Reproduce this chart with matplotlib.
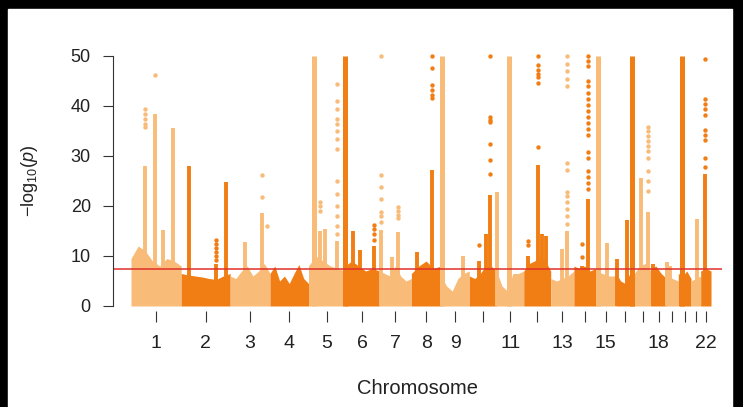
import numpy as np
import matplotlib.pyplot as plt
from matplotlib.patches import Rectangle

plt.rcParams['font.family'] = ['Liberation Sans', 'DejaVu Sans']
plt.rcParams['mathtext.fontset'] = 'custom'
plt.rcParams['mathtext.rm'] = 'Liberation Sans'
plt.rcParams['mathtext.it'] = 'Liberation Sans:italic'

# chromosome lengths (Mb)
chrom_len = [249.3, 243.2, 198.0, 191.2, 180.9, 171.1, 159.1, 146.4, 141.2, 135.5, 135.0,
             133.9, 115.2, 107.3, 102.5, 90.4, 81.2, 78.1, 59.1, 63.0, 48.1, 51.3]
tick_labels = ['1', '2', '3', '4', '5', '6', '7', '8', '9', '', '11',
               '', '13', '', '15', '', '', '18', '', '', '', '22']

# upper edge of the dense mass of non-significant SNPs, per chromosome
chrom_base = [
    [9.5, 12, 11, 9, 8, 9.5, 9, 8],
    [6.5, 6.2, 6, 5.8, 5.5, 5.3, 6, 6.5],
    [6, 5.5, 7, 8, 6, 7, 8.5, 6.5],
    [6.5, 8, 5, 6, 4.5, 6.5, 8.3, 5.5, 4.5],
    [8, 10, 9, 8, 7.5, 7],
    [8, 9, 8, 7, 7.5, 7],
    [7, 6.5, 6, 8, 6, 5, 5.5],
    [6.5, 8, 9, 7.5, 8],
    [6, 4, 3, 5.5, 6.5, 7],
    [6, 5.5, 6.5, 8, 8, 7],
    [7, 4, 3, 6.5, 6.5, 7],
    [7, 8.5, 9, 10, 9, 7],
    [5.5, 5, 5.5, 6, 7],
    [8, 7.5, 8, 7, 7.5],
    [7, 6.5, 6, 6],
    [6.5, 5, 4.5, 6.5, 7],
    [6.5, 8, 8.5, 7],
    [7.5, 8, 6.5, 5.5],
    [6, 5.5, 5],
    [6.5, 6, 7, 5.5],
    [5, 5.5, 6],
    [7, 7.5, 7],
]

# peaks: chromosome, position (Mb), top of the dense column, scattered points above
peak_chr = [1, 1, 1, 1, 2, 2, 2, 3, 3, 3, 5, 5, 5, 5, 6, 6, 6, 6, 7, 7, 7, 8, 8, 9, 9,
            10, 10, 10, 11, 11, 12, 12, 12, 12, 13, 13, 14, 14, 15, 15, 16, 16, 16,
            17, 17, 18, 19, 19, 20, 21, 22]
peak_pos = [69.5, 119, 159, 208.6, 38.7, 172.9, 225, 74, 157, 181.8, 27.3, 57, 82, 141.6,
            2, 40, 75, 144.6, 8.4, 61.6, 91.4, 26.3, 103.8, 4.5, 111.8,
            48, 81.5, 102.8, 2, 63.6, 22.9, 69.5, 91, 108.3, 54.6, 79.5, 38.7, 68.6,
            13.9, 55.6, 2, 56.1, 79, 32.3, 65.6, 9.4, 2, 18.9, 20.4, 32.3, 20]
peak_top = [28, 38.5, 15.2, 35.6, 28, 8.5, 24.8, 12.9, 18.6, 6, 50, 15, 15.5, 13,
            50, 15, 11.2, 12, 15.2, 9.9, 14.9, 10.9, 27.2, 50, 10,
            9, 14.5, 22.2, 22.9, 50, 10, 28.2, 14.5, 14, 11.5, 15, 8, 21.5,
            50, 12.7, 9.5, 17.2, 50, 25.6, 18.9, 8.5, 8.9, 8, 50, 17.5, 26.5]
peak_dots = [
    [39.5, 38.5, 37.5, 36.5, 35.9], [46.2], [], [], [],
    [13.2, 12.4, 11.6, 10.8, 10.0, 9.2], [], [], [26.2, 21.9], [16],
    [], [20.9, 20.0, 19.0], [], [44.5, 41, 39.5, 37.5, 36.5, 35, 33.5, 31.5, 25, 22.5, 20, 18, 16, 14.5],
    [], [], [], [16.3, 15.5, 14.5, 13.3],
    [50, 26.2, 23.9, 21.5, 18.9, 18, 16.9], [], [19.9, 19, 18.2, 17.6],
    [], [50, 47.6, 44.3, 43.3, 42.3, 41.6], [], [],
    [12.2], [], [50, 37.9, 37.3, 36.9, 32.5, 29.2, 26.5],
    [], [],
    [13, 12.2], [50, 48.2, 47.3, 46.5, 45.9, 44.6, 31.9], [], [],
    [], [50, 48.5, 47, 45.5, 44, 28.7, 27.3, 22.9, 22, 20.9, 19.5, 18, 16.5],
    [12.5, 9.9], [50, 49, 48, 45, 44, 42.7, 41.5, 40.3, 39, 37.8, 36.6, 35.4, 34.2,
                  30.9, 29.6, 27, 25.8, 24.6, 23.4],
    [], [], [], [], [],
    [], [35.9, 35, 34, 33, 32, 31, 29.7, 27, 25, 23],
    [], [], [], [], [],
    [49.4, 41.4, 40.5, 39.5, 38.3, 35.3, 34.3, 33.3, 29.7, 27.9],
]
threshold = -np.log10(5e-8)

light = '#F8BC78'
dark = '#F07E14'

starts = np.concatenate([[0], np.cumsum(chrom_len)[:-1]])
mids = starts + np.array(chrom_len) / 2

fig = plt.figure(figsize=(7.43, 4.07), dpi=100, facecolor='black')
fig.add_artist(Rectangle((8 / 743, 0), 724 / 743, 398 / 407,
                         transform=fig.transFigure, color='white', zorder=-5))
ax = fig.add_axes([113 / 743, 96 / 407, 609 / 743, 265 / 407])

for i, base in enumerate(chrom_base):
    c = light if i % 2 == 0 else dark
    xs = np.linspace(starts[i], starts[i] + chrom_len[i], len(base))
    ax.fill_between(xs, 0, base, color=c, lw=0)

for ch, pos, top, dots in zip(peak_chr, peak_pos, peak_top, peak_dots):
    c = light if ch % 2 == 1 else dark
    x = starts[ch - 1] + pos
    ax.vlines(x, 0, top, color=c, lw=3.6 if top >= 50 else 2.8)
    if dots:
        ax.scatter([x] * len(dots), dots, s=10, color=c, lw=0)

ax.axhline(threshold, color='#E0302A', lw=1.1)

ax.set_xlim(-89.4, 2935.6)
ax.set_ylim(-1, 52)
for s in ['top', 'right', 'bottom']:
    ax.spines[s].set_visible(False)
ax.spines['left'].set_bounds(0, 50)
ax.spines['left'].set_color('#333333')
ax.set_yticks([0, 10, 20, 30, 40, 50])
ax.set_xticks(mids)
ax.set_xticklabels(tick_labels)
ax.tick_params(axis='y', length=7, width=0.8, color='#333333', labelsize=13, pad=9,
               labelcolor='#222222')
ax.tick_params(axis='x', length=8, width=0.8, color='#333333', labelsize=14, pad=9,
               labelcolor='#222222')

fig.text(30 / 743, 1 - 181 / 407, r'$-\mathrm{log}_{10}(\mathit{p})$', rotation=90,
         ha='center', va='center', fontsize=13, color='#222222')
fig.text(418 / 743, 1 - 389 / 407, 'Chromosome', ha='center', va='center',
         fontsize=14.5, color='#222222')

fig.savefig('out.png', dpi=100, facecolor=fig.get_facecolor())
